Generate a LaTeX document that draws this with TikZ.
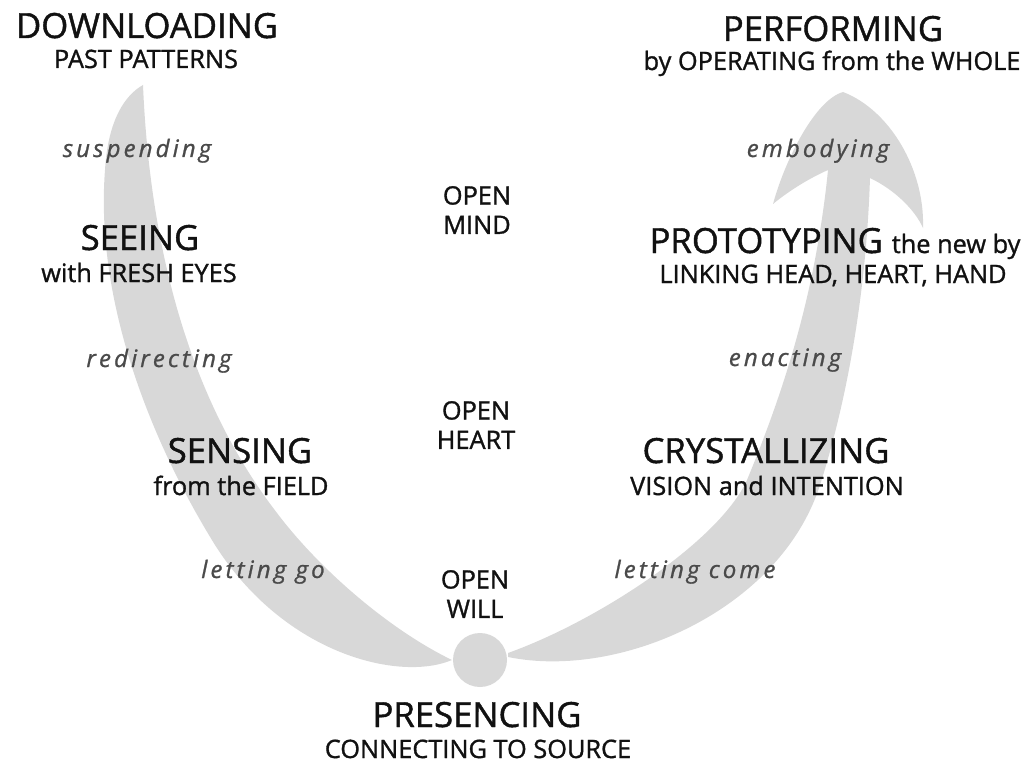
\documentclass[tikz,border=0pt]{standalone}
\usepackage{fontspec}
\setmainfont{Open Sans}[RawFeature={embolden=1.2}]
\newfontfamily\gerundfont{Open Sans}[LetterSpace=13, RawFeature={embolden=1.0}]
\usepackage{tikz}
\definecolor{ink}{HTML}{111111}
\definecolor{bandgray}{HTML}{D8D8D8}
\definecolor{soft}{HTML}{4A4A4A}

\begin{document}
\begin{tikzpicture}[x=0.75pt, y=-0.75pt,
    stage/.style={font=\fontsize{26}{30}\selectfont, text=ink, anchor=base, inner sep=0pt},
    stagesub/.style={font=\fontsize{19}{23}\selectfont, text=ink, anchor=base, inner sep=0pt},
    gerund/.style={font=\gerundfont\itshape\fontsize{18}{21}\selectfont, text=soft, anchor=base, inner sep=0pt},
    openlbl/.style={font=\fontsize{19}{22}\selectfont, text=ink, align=center, inner sep=0pt},
    band/.style={fill=bandgray}]
  \useasboundingbox (0,0) rectangle (1021,763);

  % the U: left branch tapers down to the source
  \fill[band] (143,85) .. controls (150,250) and (190,400) .. (277,513)
    .. controls (320,570) and (390,630) .. (452,660)
    .. controls (400,682) and (285,655) .. (215,545)
    .. controls (150,440) and (95,300) .. (105,170)
    .. controls (108,120) and (125,95) .. (143,85) -- cycle;
  \fill[band] (480,660) circle[radius=27];
  % right branch widens up into the arrow head
  \fill[band] (508,657) .. controls (620,680) and (780,610) .. (820,485)
    .. controls (845,407) and (866,300) .. (870,178)
    .. controls (895,190) and (915,210) .. (923,228)
    .. controls (925,170) and (890,110) .. (843,92)
    .. controls (815,100) and (785,160) .. (773,204)
    .. controls (790,190) and (810,178) .. (828,170)
    .. controls (815,300) and (780,400) .. (747,480)
    .. controls (720,540) and (600,620) .. (508,653) -- cycle;

  % left branch
  \node[stage] (down) at (147,38) {DOWNLOADING};
  \node[stagesub] (downsub) at (146,68) {PAST PATTERNS};
  \node[gerund] (susp) at (137,157) {suspending};
  \node[stage] (see) at (140,250) {SEEING};
  \node[stagesub] (seesub) at (139,282) {with FRESH EYES};
  \node[gerund] (redir) at (159,367) {redirecting};
  \node[stage] (sense) at (240,463) {SENSING};
  \node[stagesub] (sensesub) at (241,495) {from the FIELD};
  \node[gerund] (letgo) at (263,578) {letting go};

  % middle column and bottom
  \node[openlbl] (mind) at (477,210) {OPEN\\MIND};
  \node[openlbl] (heart) at (476,425) {OPEN\\HEART};
  \node[openlbl] (will) at (475,594) {OPEN\\WILL};
  \node[stage] (pres) at (477,727) {PRESENCING};
  \node[stagesub] (pressub) at (478,758) {CONNECTING TO SOURCE};

  % right branch
  \node[gerund] (letcome) at (695,578) {letting come};
  \node[stage] (cryst) at (766,463) {CRYSTALLIZING};
  \node[stagesub] (crystsub) at (767,495) {VISION and INTENTION};
  \node[gerund] (enact) at (785,366) {enacting};
  \node[stage] (proto) at (835,253) {PROTOTYPING {\fontsize{19}{23}\selectfont the new by}};
  \node[stagesub] (protosub) at (833,283) {LINKING HEAD, HEART, HAND};
  \node[gerund] (embody) at (818,157) {embodying};
  \node[stage] (perf) at (833,41) {PERFORMING};
  \node[stagesub] (perfsub) at (832,70) {by OPERATING from the WHOLE};
\end{tikzpicture}
\end{document}
